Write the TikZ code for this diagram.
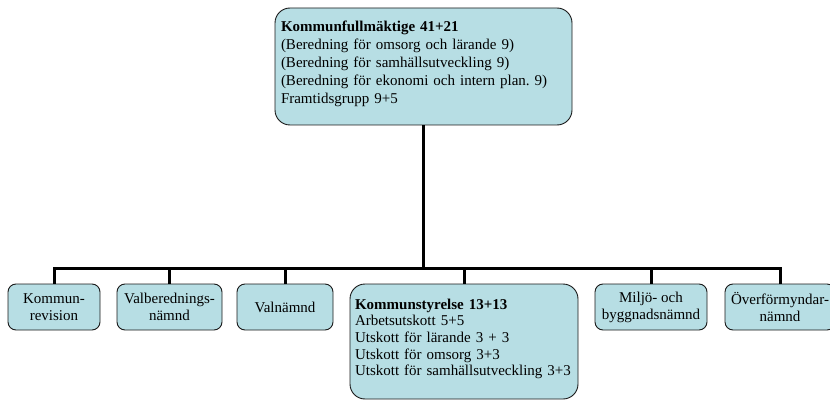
\documentclass[tikz,border=0pt]{standalone}
\usepackage{fontspec}
\setmainfont{Liberation Serif}
\usetikzlibrary{positioning}
\definecolor{boxfill}{RGB}{183,222,228}
\frenchspacing

\begin{document}
\begin{tikzpicture}[x=1pt, y=-1pt]
        % Define styles
        \tikzstyle{organ} = [rectangle, draw=black!90, line width=0.9pt, fill=boxfill, rounded corners=8pt, minimum height=46pt, inner sep=2pt, align=center, font=\fontsize{15}{17}\selectfont]
        \tikzstyle{board} = [rectangle, draw=black!90, line width=0.9pt, fill=boxfill, rounded corners=15pt, inner xsep=6pt, align=left]
        \tikzstyle{line} = [line width=3pt]

        \useasboundingbox (0,0) rectangle (830,401);

        % Council
        \node[board, minimum width=297pt, minimum height=117pt, text width=285pt, font=\fontsize{15}{18}\selectfont] (kf) at (423.5,66.5) {\textbf{Kommunfullmäktige 41+21}\\(Beredning för omsorg och lärande 9)\\(Beredning för samhällsutveckling 9)\\(Beredning för ekonomi och intern plan. 9)\\Framtidsgrupp 9+5\\[-10pt]\mbox{}};

        % Committees
        \node[organ, minimum width=92pt] (rev) at (54,307) {Kommun-\\revision};
        \node[organ, minimum width=105pt] (valber) at (169.5,307) {Valberednings-\\nämnd};
        \node[organ, minimum width=96pt] (val) at (285,307) {Valnämnd};
        \node[board, minimum width=228pt, minimum height=115pt, text width=218pt, inner xsep=5pt, font=\fontsize{15}{16.6}\selectfont] (ks) at (464,341.5) {\textbf{Kommunstyrelse 13+13}\\Arbetsutskott 5+5\\Utskott för lärande 3 + 3\\Utskott för omsorg 3+3\\Utskott för samhällsutveckling 3+3\\[-8pt]\mbox{}};
        \node[organ, minimum width=112pt] (mbn) at (651,307) {Miljö- och\\byggnadsnämnd};
        \node[organ, minimum width=110pt] (ofn) at (780,307) {Överförmyndar-\\nämnd};

        % Connections
        \coordinate (bus) at (423.5,268);
        \draw[line] (kf.south) -- (bus);
        \foreach \n in {rev, valber, val, ks, mbn, ofn}
            \draw[line] (bus) -| (\n.north);

    \end{tikzpicture}
\end{document}
